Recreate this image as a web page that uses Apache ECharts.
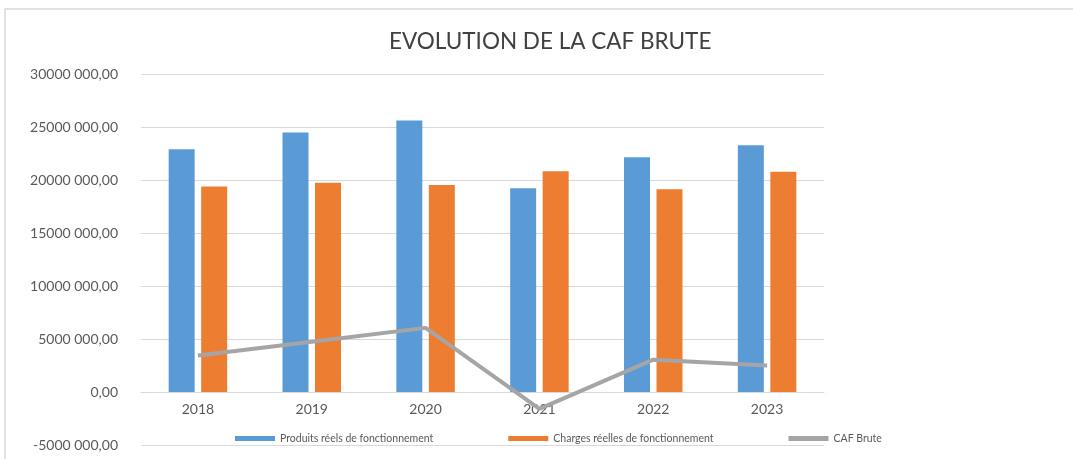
<!DOCTYPE html>
<html>
<head>
<meta charset="utf-8">
<script src="https://cdn.jsdelivr.net/npm/echarts@6/dist/echarts.min.js"></script>
<style>
  html, body { margin: 0; padding: 0; background: #fff; }
  #main { width: 1073px; height: 459px; }
</style>
</head>
<body>
<div id="main"></div>
<script>
var years = ['2018', '2019', '2020', '2021', '2022', '2023'];
var produits = [22900000, 24480000, 25610000, 19220000, 22150000, 23290000];
var charges = [19380000, 19730000, 19540000, 20830000, 19130000, 20770000];
var cafBrute = [3450000, 4750000, 6050000, -1600000, 3050000, 2500000];

var chart = echarts.init(document.getElementById('main'), null, { renderer: 'canvas' });

// 30000000 -> "30000 000,00", 0 -> "0,00"
function fmt(v) {
  if (v === 0) return '0,00';
  var s = v < 0 ? '-' : '';
  var a = Math.abs(v);
  var hi = Math.floor(a / 1000);
  var lo = String(a % 1000);
  while (lo.length < 3) lo = '0' + lo;
  return s + hi + ' ' + lo + ',00';
}

var option = {
  backgroundColor: '#fff',
  animation: false,
  textStyle: { fontFamily: 'Lato' },
  graphic: [{
    type: 'rect',
    shape: { x: 5, y: 9, width: 1100, height: 500 },
    style: { fill: 'none', stroke: '#d9d9d9', lineWidth: 1.5 },
    silent: true
  }],
  title: {
    text: 'EVOLUTION DE LA CAF BRUTE',
    left: 384,
    top: 25,
    textStyle: { fontFamily: 'Lato', fontSize: 22.5, fontWeight: 'normal', color: '#404040' }
  },
  legend: {
    left: 230,
    top: 428,
    itemWidth: 40,
    itemHeight: 5,
    itemGap: 75,
    textStyle: { fontFamily: 'Lato', fontSize: 10.5, color: '#595959' },
    data: [
      { name: 'Produits réels de fonctionnement', icon: 'rect' },
      { name: 'Charges réelles de fonctionnement', icon: 'rect' },
      { name: 'CAF Brute', icon: 'rect', itemStyle: { color: '#a5a5a5' } }
    ]
  },
  grid: { left: 141, right: 249, top: 74, bottom: 14 },
  xAxis: {
    type: 'category',
    data: years,
    position: 'bottom',
    offset: -53,
    axisLine: { onZero: false, lineStyle: { color: '#d9d9d9' } },
    axisTick: { show: false },
    axisLabel: { fontFamily: 'Lato', fontSize: 14, color: '#595959', margin: 10 }
  },
  yAxis: {
    type: 'value',
    min: -5000000,
    max: 30000000,
    interval: 5000000,
    axisLine: { show: false },
    axisTick: { show: false },
    splitLine: { lineStyle: { color: '#d9d9d9', width: 1 } },
    axisLabel: { fontFamily: 'Lato', fontSize: 14, color: '#595959', margin: 23, formatter: fmt }
  },
  series: [{
    name: 'Produits réels de fonctionnement',
    type: 'bar',
    data: produits,
    barWidth: 26,
    barGap: '25%',
    itemStyle: { color: '#5b9bd5' }
  }, {
    name: 'Charges réelles de fonctionnement',
    type: 'bar',
    data: charges,
    barWidth: 26,
    barGap: '25%',
    itemStyle: { color: '#ed7d31' }
  }, {
    name: 'CAF Brute',
    type: 'line',
    data: cafBrute,
    showSymbol: false,
    symbol: 'none',
    z: 5,
    lineStyle: { color: '#a5a5a5', width: 4 },
    itemStyle: { color: '#a5a5a5' }
  }]
};

chart.setOption(option);
</script>
</body>
</html>
